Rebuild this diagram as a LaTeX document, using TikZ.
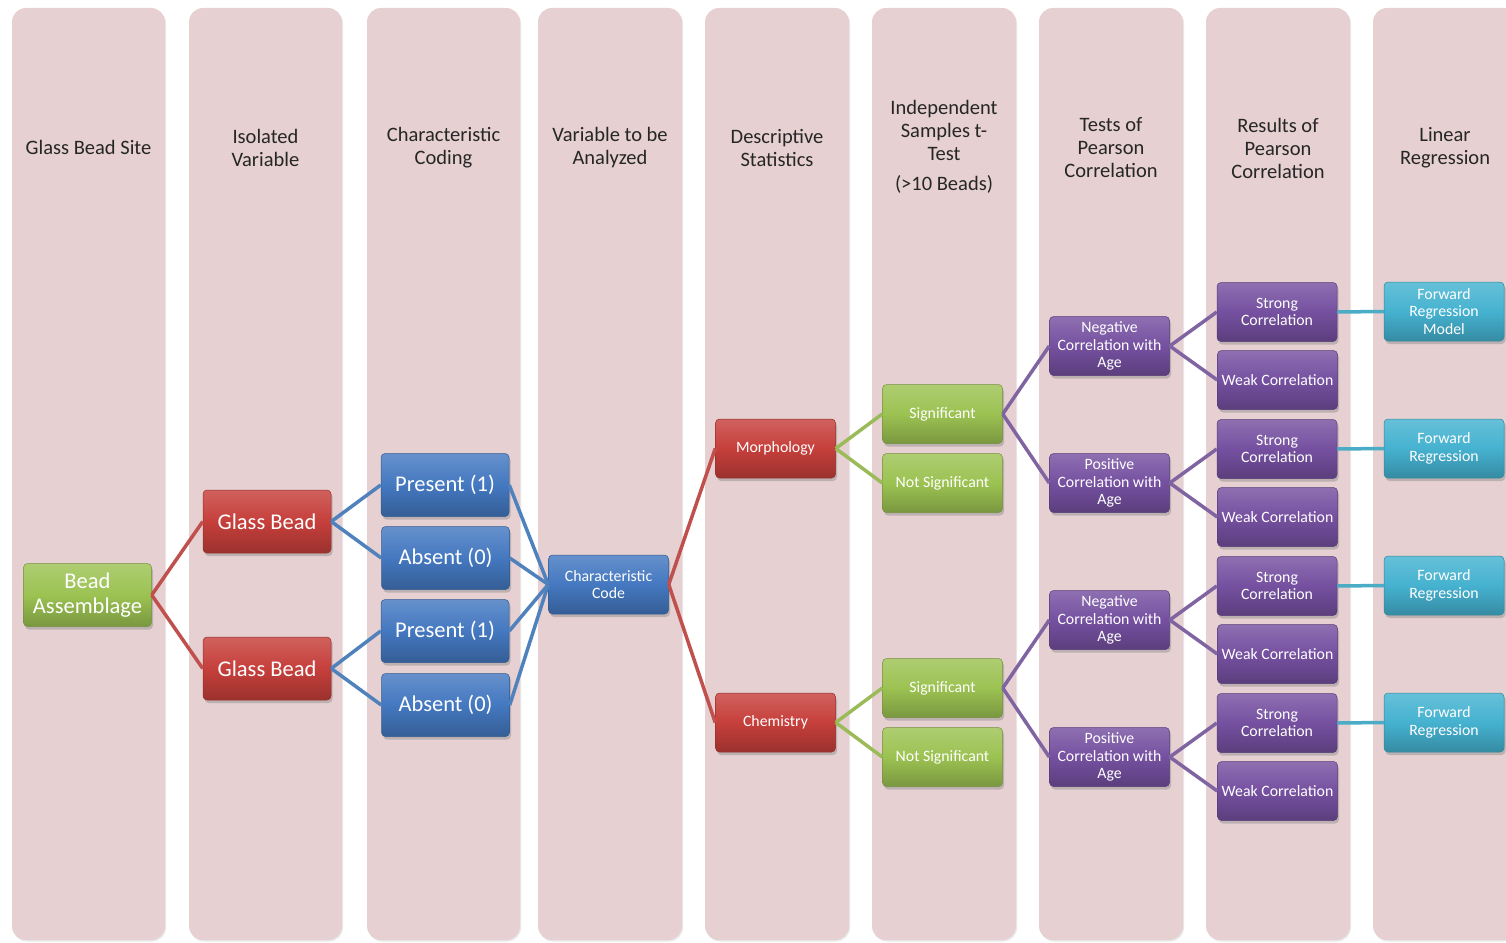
\documentclass[tikz,border=0pt]{standalone}
\usepackage{fontspec}
\setmainfont{Carlito}
\usetikzlibrary{shadows}
\definecolor{colbg}{HTML}{E6D0D1}
\definecolor{nred}{HTML}{C63F3B}
\definecolor{nblue}{HTML}{4478C0}
\definecolor{ngreen}{HTML}{9CC252}
\definecolor{npurple}{HTML}{7550A0}
\definecolor{ncyan}{HTML}{45B2D0}
\definecolor{lred}{HTML}{C0504D}
\definecolor{lblue}{HTML}{4F81BD}
\definecolor{lgreen}{HTML}{9BBB59}
\definecolor{lpurple}{HTML}{8064A2}
\definecolor{lcyan}{HTML}{4BACC6}
\tikzset{
  column/.style={fill=colbg, rounded corners=14pt,
    drop shadow={shadow xshift=1pt,shadow yshift=-1.5pt,opacity=0.18}},
  header/.style={align=center, text=black!85, font=\fontsize{20.5}{23}\selectfont},
  box/.style={rounded corners=4pt, text=white, align=center, inner sep=1pt,
    draw=#1!75!black, line width=0.5pt,
    top color=#1!82!white, bottom color=#1!78!black, middle color=#1,
    drop shadow={shadow xshift=1.5pt,shadow yshift=-3pt,opacity=0.4}},
  bigbox/.style={box=#1, minimum width=128pt, minimum height=63pt,
    font=\fontsize{22.5}{25}\selectfont},
  smallbox/.style={box=#1, minimum width=120pt, minimum height=59pt,
    font=\fontsize{15.8}{17.8}\selectfont},
  link/.style={line width=3.5pt, draw=#1},
}
\begin{document}
\begin{tikzpicture}[x=1pt,y=-1pt]
\useasboundingbox (0,0) rectangle (1506,942);
\clip (0,0) rectangle (1506,942);
% columns
\foreach \a/\b [count=\i] in {12/165,189/342,367/520,538/682,705/849,872/1016,1039/1183,1206/1350,1373/1517}{
  \path[column] (\a,8) rectangle (\b,940);
}
% headers
\node[header] (h1) at (88.5,147) {Glass Bead Site};
\node[header] (h2) at (265.5,148) {Isolated\\Variable};
\node[header] (h3) at (443.5,148) {Characteristic\\Coding};
\node[header] (h4) at (610,148) {Variable to be\\Analyzed};
\node[header] (h5) at (777,148) {Descriptive\\Statistics};
\node[header] (h6) at (944,147) {Independent\\Samples t-\\Test\\[7pt](>10 Beads)};
\node[header] (h7) at (1111,148) {Tests of\\Pearson\\Correlation};
\node[header] (h8) at (1278,148) {Results of\\Pearson\\Correlation};
\node[header] (h9) at (1445,148) {Linear\\Regression};
% nodes
\node[bigbox=ngreen] (ba) at (87.5,595) {Bead\\Assemblage};
\node[bigbox=nred] (gb1) at (267,521.5) {Glass Bead};
\node[bigbox=nred] (gb2) at (267,668.5) {Glass Bead};
\node[bigbox=nblue] (p1) at (445,485) {Present (1)};
\node[bigbox=nblue] (a1) at (445.5,558) {Absent (0)};
\node[bigbox=nblue] (p2) at (445,631) {Present (1)};
\node[bigbox=nblue] (a2) at (445.5,705) {Absent (0)};
\node[smallbox=nblue] (cc) at (608.5,584.5) {Characteristic\\Code};
\node[smallbox=nred] (mo) at (775.5,448.5) {Morphology};
\node[smallbox=nred] (ch) at (775.5,722.5) {Chemistry};
\node[smallbox=ngreen] (s1) at (942.5,414) {Significant};
\node[smallbox=ngreen] (n1) at (942.5,483) {Not Significant};
\node[smallbox=ngreen] (s2) at (942.5,688) {Significant};
\node[smallbox=ngreen] (n2) at (942.5,757) {Not Significant};
\node[smallbox=npurple] (ng1) at (1109.5,346) {Negative\\Correlation with\\Age};
\node[smallbox=npurple] (ps1) at (1109.5,483) {Positive\\Correlation with\\Age};
\node[smallbox=npurple] (ng2) at (1109.5,620) {Negative\\Correlation with\\Age};
\node[smallbox=npurple] (ps2) at (1109.5,757) {Positive\\Correlation with\\Age};
\node[smallbox=npurple] (st1) at (1277,312) {Strong\\Correlation};
\node[smallbox=npurple] (wk1) at (1277.5,380) {Weak Correlation};
\node[smallbox=npurple] (st2) at (1277,449) {Strong\\Correlation};
\node[smallbox=npurple] (wk2) at (1277.5,517) {Weak Correlation};
\node[smallbox=npurple] (st3) at (1277,586) {Strong\\Correlation};
\node[smallbox=npurple] (wk3) at (1277.5,654) {Weak Correlation};
\node[smallbox=npurple] (st4) at (1277,723) {Strong\\Correlation};
\node[smallbox=npurple] (wk4) at (1277.5,791) {Weak Correlation};
\node[smallbox=ncyan] (fr1) at (1444,311.5) {Forward\\Regression\\Model};
\node[smallbox=ncyan] (fr2) at (1444,448.5) {Forward\\Regression};
\node[smallbox=ncyan] (fr3) at (1444,585.5) {Forward\\Regression};
\node[smallbox=ncyan] (fr4) at (1444,722.5) {Forward\\Regression};
% connectors
\draw[link=lred] (ba.east) -- (gb1.west);
\draw[link=lred] (ba.east) -- (gb2.west);
\draw[link=lblue] (gb1.east) -- (p1.west);
\draw[link=lblue] (gb1.east) -- (a1.west);
\draw[link=lblue] (gb2.east) -- (p2.west);
\draw[link=lblue] (gb2.east) -- (a2.west);
\foreach \n in {p1,a1,p2,a2}{\draw[link=lblue] (\n.east) -- (cc.west);}
\draw[link=lred] (cc.east) -- (mo.west);
\draw[link=lred] (cc.east) -- (ch.west);
\draw[link=lgreen] (mo.east) -- (s1.west);
\draw[link=lgreen] (mo.east) -- (n1.west);
\draw[link=lgreen] (ch.east) -- (s2.west);
\draw[link=lgreen] (ch.east) -- (n2.west);
\draw[link=lpurple] (s1.east) -- (ng1.west);
\draw[link=lpurple] (s1.east) -- (ps1.west);
\draw[link=lpurple] (s2.east) -- (ng2.west);
\draw[link=lpurple] (s2.east) -- (ps2.west);
\draw[link=lpurple] (ng1.east) -- (st1.west);
\draw[link=lpurple] (ng1.east) -- (wk1.west);
\draw[link=lpurple] (ps1.east) -- (st2.west);
\draw[link=lpurple] (ps1.east) -- (wk2.west);
\draw[link=lpurple] (ng2.east) -- (st3.west);
\draw[link=lpurple] (ng2.east) -- (wk3.west);
\draw[link=lpurple] (ps2.east) -- (st4.west);
\draw[link=lpurple] (ps2.east) -- (wk4.west);
\draw[link=lcyan] (st1.east) -- (fr1.west);
\draw[link=lcyan] (st2.east) -- (fr2.west);
\draw[link=lcyan] (st3.east) -- (fr3.west);
\draw[link=lcyan] (st4.east) -- (fr4.west);
\end{tikzpicture}
\end{document}
